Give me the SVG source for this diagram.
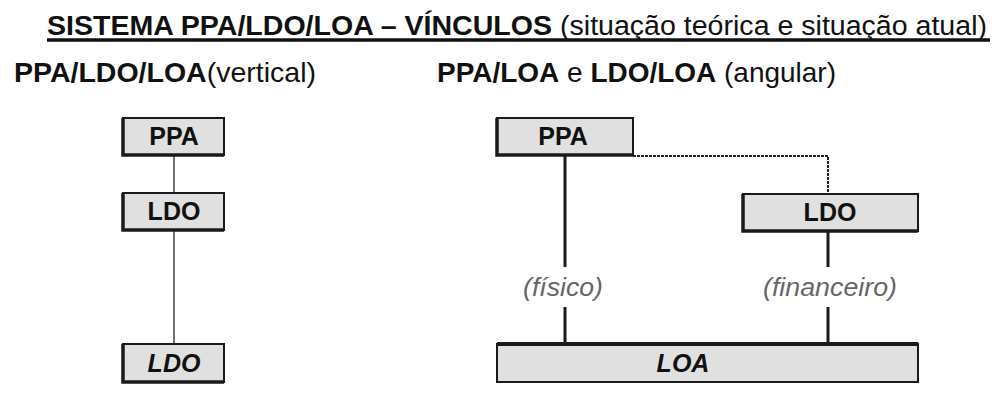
<svg xmlns="http://www.w3.org/2000/svg" width="995" height="402" viewBox="0 0 995 402">
<style>
text{font-family:"Liberation Sans",Arial,sans-serif;fill:#111}
.box{fill:#e0e0e0;stroke:#1a1a1a;stroke-width:2}
.sh{fill:none;stroke:#1a1a1a;stroke-width:3.5}
.nt{font-size:25px;font-weight:bold;text-anchor:middle}
.it{font-style:italic}
.lbl{font-size:25px;font-style:italic;fill:#666;text-anchor:middle}
.thin{stroke:#444;stroke-width:1.5;fill:none}
.thick{stroke:#1a1a1a;stroke-width:3;fill:none}
.dash{stroke:#222;stroke-width:2;stroke-dasharray:3 1;fill:none}
</style>
<rect width="995" height="402" fill="#fff"/>
<g id="title">
<text x="47" y="35" font-size="27" textLength="940" lengthAdjust="spacingAndGlyphs"><tspan font-weight="bold">SISTEMA PPA/LDO/LOA – VÍNCULOS</tspan> (situação teórica e situação atual)</text>
<line x1="47" y1="40" x2="990" y2="40" stroke="#111" stroke-width="3.5"/>
</g>
<g id="subtitles">
<text x="14" y="82" font-size="28" textLength="302" lengthAdjust="spacingAndGlyphs"><tspan font-weight="bold">PPA/LDO/LOA</tspan>(vertical)</text>
<text x="437" y="82" font-size="28" textLength="399" lengthAdjust="spacingAndGlyphs"><tspan font-weight="bold">PPA/LOA</tspan> e <tspan font-weight="bold">LDO/LOA</tspan> (angular)</text>
</g>
<g id="connectors">
<line class="thin" x1="174" y1="156" x2="174" y2="193"/>
<line class="thin" x1="174" y1="231" x2="174" y2="343"/>
<line class="thick" x1="565" y1="156" x2="565" y2="267"/>
<line class="thick" x1="565" y1="307" x2="565" y2="343"/>
<line class="thick" x1="828" y1="231" x2="828" y2="267"/>
<line class="thick" x1="828" y1="307" x2="828" y2="343"/>
<polyline class="dash" points="633,156 828,156 828,193"/>
<text class="lbl" x="563" y="296" textLength="80" lengthAdjust="spacingAndGlyphs">(físico)</text>
<text class="lbl" x="830" y="296" textLength="134" lengthAdjust="spacingAndGlyphs">(financeiro)</text>
</g>
<g id="ppa-v">
<rect class="box" x="123" y="118" width="101" height="37"/>
<polyline class="sh" points="123,118 123,155 224,155"/>
<text class="nt" x="174" y="145">PPA</text>
</g>
<g id="ldo-v">
<rect class="box" x="123" y="193" width="101" height="37"/>
<polyline class="sh" points="123,193 123,230 224,230"/>
<text class="nt" x="174" y="220">LDO</text>
</g>
<g id="loa-v">
<rect class="box" x="123" y="344" width="101" height="38"/>
<polyline class="sh" points="123,344 123,382 224,382"/>
<text class="nt it" x="174" y="372">LDO</text>
</g>
<g id="ppa-a">
<rect class="box" x="497" y="118" width="136" height="37"/>
<polyline class="sh" points="497,118 497,155 633,155"/>
<text class="nt" x="563" y="145">PPA</text>
</g>
<g id="ldo-a">
<rect class="box" x="743" y="194" width="175" height="37"/>
<polyline class="sh" points="743,194 743,231 918,231"/>
<text class="nt" x="830" y="221">LDO</text>
</g>
<g id="loa-a">
<rect class="box" x="497" y="344" width="421" height="38"/>
<line x1="497" y1="344" x2="918" y2="344" stroke="#1a1a1a" stroke-width="4"/>
<text class="nt it" x="683" y="372">LOA</text>
</g>
</svg>
